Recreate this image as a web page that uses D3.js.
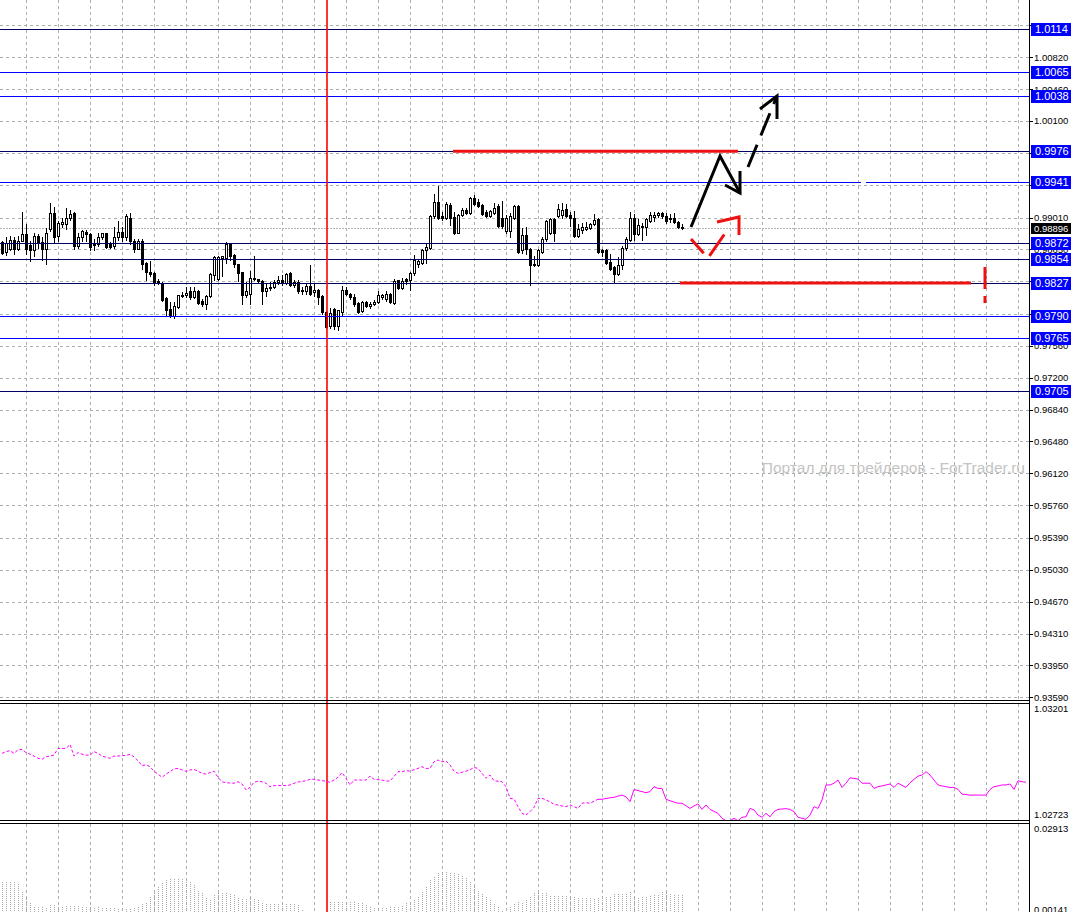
<!DOCTYPE html>
<html><head><meta charset="utf-8">
<script src="https://cdn.jsdelivr.net/npm/d3@7"></script>
<style>
html,body{margin:0;padding:0;background:#fff;overflow:hidden;}
svg{display:block;}
text{font-family:"Liberation Sans",Arial,sans-serif;}
</style></head><body>
<svg id="chart" width="1074" height="912"></svg>
<script>
// ---------------- DATA ----------------
const opens  = [.9873,.9862,.9865,.9876,.9865,.9875,.9882,.9870,.9864,.9880,.9873,.9866,.9888,.9906,.9880,.9894,.9894,.9900,.9906,.9869,
.9879,.9885,.9882,.9872,.9871,.9879,.9883,.9871,.9869,.9879,.9885,.9879,.9901,.9875,.9866,.9874,.9850,.9840,.9838,.9829,
.9827,.9810,.9798,.9790,.9800,.9812,.9813,.9818,.9811,.9818,.9807,.9803,.9812,.9836,.9831,.9855,.9855,.9871,.9859,.9848,
.9839,.9814,.9815,.9833,.9831,.9829,.9818,.9821,.9822,.9828,.9830,.9827,.9838,.9825,.9828,.9818,.9818,.9824,.9817,.9819,
.9812,.9794,.9779,.9798,.9779,.9794,.9819,.9815,.9811,.9804,.9795,.9806,.9801,.9803,.9805,.9811,.9809,.9815,.9804,.9830,
.9821,.9831,.9830,.9838,.9849,.9850,.9864,.9867,.9903,.9918,.9903,.9901,.9915,.9902,.9884,.9904,.9910,.9906,.9923,.9919,
.9915,.9907,.9903,.9906,.9914,.9901,.9886,.9886,.9901,.9914,.9864,.9881,.9865,.9848,.9847,.9862,.9877,.9884,.9899,.9903,
.9904,.9911,.9904,.9901,.9880,.9887,.9888,.9889,.9894,.9899,.9864,.9864,.9851,.9845,.9837,.9847,.9867,.9876,.9901,.9882,
.9891,.9890,.9897,.9902,.9904,.9906,.9903,.9899,.9901,.9896,.98905];
const highs  = [.9874,.9879,.9880,.9879,.9880,.9907,.9894,.9875,.9884,.9882,.9879,.9889,.9917,.9913,.9897,.9901,.9912,.9910,.9907,.9884,
.9887,.9887,.9883,.9877,.9883,.9884,.9884,.9873,.9890,.9897,.9890,.9905,.9906,.9877,.9877,.9877,.9851,.9852,.9839,.9832,
.9828,.9811,.9805,.9806,.9814,.9817,.9822,.9822,.9822,.9819,.9809,.9813,.9838,.9857,.9857,.9857,.9873,.9872,.9860,.9848,
.9840,.9828,.9841,.9857,.9832,.9830,.9826,.9828,.9830,.9835,.9836,.9838,.9839,.9830,.9830,.9822,.9827,.9847,.9826,.9820,
.9813,.9795,.9799,.9799,.9797,.9824,.9823,.9816,.9815,.9805,.9807,.9807,.9806,.9808,.9818,.9815,.9818,.9816,.9832,.9830,
.9833,.9833,.9839,.9859,.9854,.9865,.9871,.9904,.9928,.9937,.9907,.9918,.9917,.9907,.9905,.9912,.9912,.9924,.9927,.9922,
.9916,.9909,.9910,.9917,.9916,.9920,.9904,.9906,.9915,.9915,.9889,.9890,.9867,.9858,.9865,.9879,.9898,.9900,.9900,.9916,
.9917,.9916,.9907,.9908,.9894,.9895,.9896,.9895,.9905,.9900,.9865,.9865,.9860,.9846,.9856,.9869,.9879,.9907,.9905,.9899,
.9895,.9901,.9907,.9907,.9907,.9907,.9906,.9905,.9906,.9897,.9894];
const lows   = [.9860,.9859,.9864,.9860,.9864,.9874,.9860,.9852,.9858,.9867,.9853,.9849,.9886,.9873,.9875,.9890,.9888,.9898,.9865,.9867,
.9874,.9875,.9864,.9864,.9869,.9877,.9867,.9867,.9867,.9876,.9874,.9876,.9871,.9862,.9865,.9843,.9830,.9835,.9825,.9826,
.9807,.9791,.9789,.9788,.9799,.9811,.9811,.9809,.9810,.9803,.9801,.9798,.9811,.9830,.9830,.9835,.9850,.9853,.9845,.9829,
.9803,.9811,.9803,.9830,.9828,.9803,.9812,.9819,.9821,.9826,.9825,.9826,.9824,.9823,.9816,.9815,.9815,.9814,.9812,.9803,
.9792,.9776,.9776,.9775,.9774,.9791,.9814,.9809,.9801,.9793,.9794,.9800,.9799,.9802,.9804,.9809,.9807,.9804,.9803,.9820,
.9820,.9826,.9819,.9836,.9845,.9848,.9850,.9866,.9901,.9899,.9898,.9899,.9892,.9882,.9883,.9903,.9905,.9905,.9915,.9913,
.9904,.9902,.9902,.9905,.9890,.9889,.9884,.9879,.9899,.9861,.9861,.9860,.9825,.9846,.9846,.9861,.9875,.9882,.9875,.9902,
.9901,.9902,.9891,.9879,.9879,.9884,.9887,.9888,.9892,.9861,.9858,.9849,.9842,.9828,.9836,.9843,.9864,.9874,.9876,.9881,
.9876,.9881,.9896,.9897,.9902,.9901,.9895,.9896,.9895,.9889,.9888];
const closes = [.9861,.9872,.9876,.9865,.9875,.9882,.9865,.9864,.9880,.9873,.9865,.9884,.9906,.9879,.9895,.9896,.9901,.9905,.9869,.9879,
.9886,.9882,.9868,.9870,.9879,.9883,.9868,.9868,.9879,.9885,.9879,.9903,.9874,.9866,.9875,.9848,.9840,.9837,.9827,.9827,
.9808,.9797,.9790,.9801,.9813,.9813,.9816,.9811,.9818,.9804,.9803,.9812,.9837,.9856,.9856,.9857,.9871,.9858,.9848,.9838,
.9814,.9818,.9833,.9831,.9829,.9818,.9821,.9823,.9828,.9830,.9827,.9837,.9825,.9828,.9818,.9819,.9824,.9815,.9819,.9811,
.9794,.9777,.9793,.9779,.9796,.9819,.9815,.9811,.9803,.9794,.9806,.9801,.9803,.9806,.9813,.9813,.9815,.9805,.9829,.9821,
.9829,.9829,.9838,.9853,.9852,.9864,.9868,.9903,.9918,.9901,.9900,.9916,.9901,.9884,.9904,.9910,.9906,.9923,.9916,.9914,
.9905,.9903,.9908,.9912,.9891,.9891,.9900,.9903,.9914,.9862,.9881,.9865,.9847,.9847,.9864,.9877,.9897,.9899,.9884,.9911,
.9910,.9903,.9901,.9880,.9888,.9890,.9890,.9894,.9898,.9862,.9862,.9850,.9843,.9837,.9847,.9867,.9877,.9901,.9882,.9892,
.9890,.9899,.9904,.9904,.9906,.9903,.9897,.9901,.9896,.9890,.98896];

// price-axis tick labels (main panel)
const priceTicks = ["1.01180","1.00820","1.00460","1.00100","0.99740","0.99380","0.99010","0.98650","0.98290","0.97920","0.97560",
"0.97200","0.96840","0.96480","0.96120","0.95760","0.95390","0.95030","0.94670","0.94310","0.93950","0.93590"];
const priceRange = [0.935589, 1.014676];

// horizontal levels with their labels
const levelValues = [1.0114,1.0065,1.0038,0.9976,0.9941,0.9872,0.9854,0.9827,0.9790,0.9765,0.9705];
const levelLabels = ["1.0114","1.0065","1.0038","0.9976","0.9941","0.9872","0.9854","0.9827","0.9790","0.9765","0.9705"];
const darkLevels  = ["1.0114","0.9976","0.9872","0.9854","0.9827","0.9705"];
const gapLevel = {label:"0.9941", fromBar:214.75, toBar:216.0};

// indicator panel 1 (magenta line): bar index, value
const magBars = [0,1,2,3,4,5,6,7,8,9,10,11,13,14,16,17,18,19,20,21,22,23,24,25,27,28,29,31,32,33,34,35,36,37,38,39,40,41,42,43,44,45,46,47,48,49,50,51,52,53,54,55,56,58,59,60,61,62,63,64,65,66,67,68,69,71,72,73,74,76,77,78,79,81,82,83,84,85,86,87,88,89,91,92,93,95,96,97,98,99,100,101,102,104,105,106,107,108,109,110,111,112,113,114,116,117,118,119,121,122,123,125,126,127,128,129,
130,131,132,133,134,135,137,138,139,140,141,142,144,145,146,147,149,150,152,153,154,155,156,157,158,159,161,162,163,164,165,166,167,169,170,172,173,174,175,176,177,179,180,181,182,183,184,185,186,187,188,189,190,191,192,193,194,196,197,198,199,201,202,203,204,205,206,207,208,209,210,211,212,214,215,217,218,219,220,222,223,224,226,227,229,230,231,232,234,235,237,238,239,240,242,244,246,247,248,249,250,251,252,253,254,255,256];
const magValues = [1.02997,1.03004,1.03008,1.02997,1.03011,1.03013,1.03000,1.02994,1.02986,1.02977,1.02973,1.02983,1.02990,1.03017,1.03017,1.03033,1.02986,1.03000,1.02994,1.02990,1.02990,1.03004,1.02997,1.02986,1.02977,1.02986,1.02986,1.02989,1.02993,1.02983,1.02967,1.02947,1.02951,1.02943,1.02925,1.02913,1.02900,1.02913,1.02923,1.02934,1.02936,1.02930,1.02924,1.02930,1.02932,1.02925,1.02916,1.02913,1.02919,1.02925,1.02900,1.02882,1.02878,1.02876,1.02882,1.02873,1.02849,1.02859,1.02880,1.02884,1.02882,1.02876,1.02862,1.02866,1.02867,1.02867,1.02869,1.02876,1.02881,1.02886,1.02892,1.02892,1.02889,1.02884,1.02880,1.02889,1.02900,1.02919,1.02896,1.02869,1.02889,1.02889,1.02889,1.02905,1.02892,1.02889,1.02885,1.02885,1.02903,1.02923,1.02923,1.02927,1.02925,1.02936,1.02943,1.02936,1.02936,1.02963,1.02970,1.02963,1.02966,1.02950,1.02925,1.02916,1.02925,1.02930,1.02940,1.02936,1.02896,1.02909,1.02886,1.02882,1.02862,1.02815,1.02812,1.02781,
1.02754,1.02747,1.02761,1.02778,1.02815,1.02815,1.02801,1.02790,1.02788,1.02784,1.02781,1.02788,1.02774,1.02795,1.02797,1.02795,1.02811,1.02811,1.02817,1.02819,1.02824,1.02828,1.02821,1.02801,1.02851,1.02846,1.02838,1.02842,1.02862,1.02855,1.02855,1.02811,1.02805,1.02795,1.02795,1.02774,1.02784,1.02792,1.02770,1.02788,1.02770,1.02754,1.02734,1.02724,1.02724,1.02734,1.02724,1.02738,1.02740,1.02774,1.02768,1.02747,1.02738,1.02754,1.02740,1.02761,1.02770,1.02773,1.02770,1.02761,1.02738,1.02730,1.02747,1.02781,1.02774,1.02808,1.02869,1.02869,1.02876,1.02889,1.02859,1.02876,1.02898,1.02893,1.02876,1.02876,1.02855,1.02862,1.02865,1.02873,1.02859,1.02876,1.02859,1.02878,1.02905,1.02909,1.02923,1.02909,1.02869,1.02865,1.02859,1.02859,1.02851,1.02832,1.02828,1.02828,1.02828,1.02851,1.02862,1.02865,1.02869,1.02869,1.02873,1.02851,1.02886,1.02882,1.02880];
const magDottedUntil = 149;
const panel2Labels = ["1.03201","1.02723"];

// indicator panel 2 (histogram), one value per candle
const histValues = [.0122,.0122,.0122,.0122,.0115,.0091,.0076,.0058,.0046,.0046,.0044,.0041,.0051,.0051,.0046,.0046,.0048,.0048,.0048,.0048,
.0046,.0046,.0046,.0041,.0044,.0041,.0041,.0041,.0041,.0039,.0041,.0039,.0039,.0041,.0046,.0054,.0056,.0076,.0088,.0107,
.0119,.0127,.0130,.0130,.0130,.0130,.0127,.0122,.0112,.0093,.0086,.0073,.0066,.0081,.0086,.0086,.0086,.0084,.0081,.0073,
.0069,.0069,.0069,.0069,.0066,.0056,.0054,.0054,.0054,.0053,.0054,.0054,.0054,.0054,.0051,.0035,.00141,.00141,.00141,.00141,
.00141,.00141,.0061,.0061,.0061,.0061,.0061,.0061,.0059,.0058,.0058,.0051,.0046,.0041,.0041,.0041,.0041,.0044,.0044,.0046,
.0048,.0056,.0061,.0066,.0076,.0091,.0107,.0127,.0137,.0147,.0152,.0152,.0149,.0147,.0145,.0140,.0134,.0122,.0107,.0093,
.0084,.0076,.0066,.0054,.0046,.0033,.0030,.0046,.0054,.0061,.0056,.0066,.0076,.0086,.0088,.0088,.0086,.0078,.0078,.0078,
.0078,.0078,.0076,.0074,.0073,.0073,.0073,.0071,.0069,.0071,.0073,.0076,.0076,.0083,.0083,.0083,.0083,.0091,.0076,.0073,
.0074,.0076,.0078,.0081,.0081,.0091,.0086,.0083,.0081,.0081,.0081];
const panel3Labels = ["0.02913","0.00141"];

// annotations, in (bar index, price)
const redVerticalBar = 81.25;
const redLevels = [{price:0.9976, from:112.75, to:184}, {price:0.9827, from:169.5, to:242.25}];
const redMark = {bar:245.75, top:0.98451, bottom:0.98044};
const blackArrow = [[172.25,0.98903],[179.5,0.99705],[184.5,0.99287]];
const blackArrowHead = [[184.5,0.99536],[184.5,0.99287],[180.75,0.99377]];
const blackDash = [[186.5,0.99581],[193.75,1.00383]];
const blackDashHead = [[189.5,1.00236],[193.75,1.00383],[193.75,1.00123]];
const redDash = [[172.25,0.98767],[176.5,0.98553],[181.5,0.98880]];
const redDashHead = [[178.75,0.98959],[184.25,0.99016],[184.25,0.98813]];
const watermark = "Портал для трейдеров - ForTrader.ru";

// ---------------- DRAW ----------------
const svg = d3.select("#chart");
const AXIS_X = 1029;
const x = d3.scaleLinear().domain([0, 256]).range([2, 1026]);
const y = d3.scaleLinear().domain(priceRange).range([700, 0]);
const y2 = d3.scaleLinear().domain([+panel2Labels[1], +panel2Labels[0]]).range([821, 703]);
const y3 = d3.scaleLinear().domain([+panel3Labels[1], +panel3Labels[0]]).range([917, 826]);
const px = v => Math.round(v) + 0.5;
const GRID = "#a9b3a9";

const defs = svg.append("defs");
defs.append("clipPath").attr("id","cMain").append("rect").attr("x",0).attr("y",0).attr("width",AXIS_X).attr("height",700);
defs.append("clipPath").attr("id","cP2").append("rect").attr("x",0).attr("y",704).attr("width",AXIS_X).attr("height",116);
defs.append("clipPath").attr("id","cP3").append("rect").attr("x",0).attr("y",824).attr("width",AXIS_X).attr("height",90);

// grid
const gridBars = d3.range(6, 257, 8).filter(b => x(b) < AXIS_X);
const gGrid = svg.append("g").attr("stroke", GRID).attr("stroke-dasharray","3,3").attr("stroke-width",1);
[[0,700],[704,820],[824,912]].forEach(([a,b]) => {
  gGrid.selectAll(null).data(gridBars).join("line")
    .attr("x1", d => px(x(d))).attr("x2", d => px(x(d))).attr("y1", a).attr("y2", b);
});
gGrid.selectAll(null).data(priceTicks).join("line")
  .attr("x1",0).attr("x2",AXIS_X).attr("y1", d => px(y(+d))).attr("y2", d => px(y(+d)));

// bid line
const last = closes[closes.length-1];
svg.append("line").attr("x1",0).attr("x2",AXIS_X).attr("y1",px(y(last))).attr("y2",px(y(last)))
  .attr("stroke","#b5b5b5").attr("stroke-dasharray","2,1");

// candles
const gC = svg.append("g").attr("clip-path","url(#cMain)");
opens.forEach((o,i) => {
  const c = closes[i], h = highs[i], l = lows[i];
  const cx = Math.round(x(i));
  gC.append("line").attr("x1",cx+0.5).attr("x2",cx+0.5)
    .attr("y1",Math.round(y(h))).attr("y2",Math.round(y(l))+1).attr("stroke","#000");
  const top = Math.round(y(Math.max(o,c))), bot = Math.round(y(Math.min(o,c)));
  if (c < o) {
    gC.append("rect").attr("x",cx-1).attr("y",top).attr("width",3).attr("height",Math.max(1,bot-top+1)).attr("fill","#000");
  } else {
    if (bot - top < 1) {
      gC.append("rect").attr("x",cx-1).attr("y",top).attr("width",3).attr("height",1).attr("fill","#000");
    } else {
      gC.append("rect").attr("x",cx-0.5).attr("y",top+0.5).attr("width",2).attr("height",bot-top)
        .attr("fill","#fff").attr("stroke","#000").attr("stroke-width",1);
    }
  }
});

// level lines
const gLev = svg.append("g");
levelValues.forEach((v,i) => {
  const col = darkLevels.includes(levelLabels[i]) ? "#000064" : "#0000ff";
  const yy = px(y(v));
  const segs = levelLabels[i] === gapLevel.label
    ? [[0, x(gapLevel.fromBar)], [x(gapLevel.toBar), AXIS_X]]
    : [[0, AXIS_X]];
  segs.forEach(([a,b]) => gLev.append("line").attr("x1",a).attr("x2",b).attr("y1",yy).attr("y2",yy)
    .attr("stroke",col).attr("stroke-width",1));
});

// red vertical line (all panels)
svg.append("line").attr("x1",x(redVerticalBar)).attr("x2",x(redVerticalBar)).attr("y1",0).attr("y2",912)
  .attr("stroke","#ff0000").attr("stroke-width",1.6);

// red horizontal segments
svg.append("g").selectAll("line").data(redLevels).join("line")
  .attr("x1",d=>x(d.from)).attr("x2",d=>x(d.to)).attr("y1",d=>y(d.price)).attr("y2",d=>y(d.price))
  .attr("stroke","#ee1111").attr("stroke-width",3);
svg.append("line").attr("x1",x(redMark.bar)).attr("x2",x(redMark.bar)).attr("y1",y(redMark.top)).attr("y2",y(redMark.bottom))
  .attr("stroke","#ee1111").attr("stroke-width",3).attr("stroke-dasharray","22,7");

const line = d3.line().x(d=>x(d[0])).y(d=>y(d[1]));
svg.append("path").attr("d",line(blackArrow)).attr("fill","none").attr("stroke","#000").attr("stroke-width",3);
svg.append("path").attr("d",line(blackArrowHead)).attr("fill","none").attr("stroke","#000").attr("stroke-width",3);
svg.append("path").attr("d",line(blackDash)).attr("fill","none").attr("stroke","#000").attr("stroke-width",3).attr("stroke-dasharray","24,10");
svg.append("path").attr("d",line(blackDashHead)).attr("fill","none").attr("stroke","#000").attr("stroke-width",3);
svg.append("path").attr("d",line(redDash)).attr("fill","none").attr("stroke","#ee1111").attr("stroke-width",3).attr("stroke-dasharray","19,9,26,60");
svg.append("path").attr("d",line(redDashHead)).attr("fill","none").attr("stroke","#ee1111").attr("stroke-width",3);

// watermark
svg.append("text").attr("x",1025).attr("y",473).attr("text-anchor","end").attr("font-size",15.5)
  .attr("fill","#c4c4c4").text(watermark);

// panel 2: magenta line
const mag = magBars.map((b,i)=>[b, magValues[i]]);
const l2 = d3.line().x(d=>x(d[0])).y(d=>y2(d[1]));
const g2 = svg.append("g").attr("clip-path","url(#cP2)");
g2.append("path").attr("d", l2(mag.filter(d=>d[0] <= magDottedUntil))).attr("fill","none")
  .attr("stroke","#ff00ff").attr("stroke-width",1).attr("stroke-dasharray","3,2");
g2.append("path").attr("d", l2(mag.filter(d=>d[0] >= magDottedUntil))).attr("fill","none")
  .attr("stroke","#ff00ff").attr("stroke-width",1);

// panel 3: histogram
const g3 = svg.append("g").attr("clip-path","url(#cP3)");
g3.selectAll("line").data(histValues).join("line")
  .attr("x1",(d,i)=>px(x(i))).attr("x2",(d,i)=>px(x(i)))
  .attr("y1",d=>Math.round(y3(d))).attr("y2",917)
  .attr("stroke","#a8a8a8").attr("stroke-width",1).attr("stroke-dasharray","1,1");

// panel frames
const frame = svg.append("g").attr("stroke","#000").attr("stroke-width",1);
[700.5,703.5,820.5,823.5].forEach(v => frame.append("line").attr("x1",0).attr("x2",AXIS_X).attr("y1",v).attr("y2",v));
frame.append("line").attr("x1",AXIS_X+0.5).attr("x2",AXIS_X+0.5).attr("y1",0).attr("y2",912);

// price axis labels
const gAx = svg.append("g");
gAx.selectAll("line").data(priceTicks).join("line")
  .attr("x1",AXIS_X+1).attr("x2",AXIS_X+4).attr("y1",d=>px(y(+d))).attr("y2",d=>px(y(+d))).attr("stroke","#000");
gAx.selectAll("text").data(priceTicks).join("text")
  .attr("x",1034).attr("y",d=>y(+d)).attr("dy","0.35em").attr("font-size",9.5).attr("fill","#000").text(d=>d);

// panel labels
svg.append("text").attr("x",1034).attr("y",709).attr("dy","0.35em").attr("font-size",9.5).text(panel2Labels[0]);
svg.append("text").attr("x",1034).attr("y",815).attr("dy","0.35em").attr("font-size",9.5).text(panel2Labels[1]);
svg.append("text").attr("x",1034).attr("y",829).attr("dy","0.35em").attr("font-size",9.5).text(panel3Labels[0]);
svg.append("text").attr("x",1034).attr("y",910).attr("dy","0.35em").attr("font-size",9.5).text(panel3Labels[1]);

// level boxes
const gL = svg.append("g");
levelValues.forEach((v,i) => {
  const yy = Math.round(y(v));
  gL.append("rect").attr("x",1031).attr("y",yy-6).attr("width",40).attr("height",13).attr("fill","#0000ff");
  gL.append("text").attr("x",1035).attr("y",yy+0.5).attr("dy","0.36em").attr("font-size",11).attr("fill","#fff").text(levelLabels[i]);
});
// bid box
const by = Math.round(y(last));
svg.append("rect").attr("x",1031).attr("y",by-5).attr("width",40).attr("height",11).attr("fill","#000");
svg.append("text").attr("x",1034).attr("y",by+0.5).attr("dy","0.35em").attr("font-size",9.5).attr("fill","#fff").text(last.toFixed(5));
</script>
</body></html>
